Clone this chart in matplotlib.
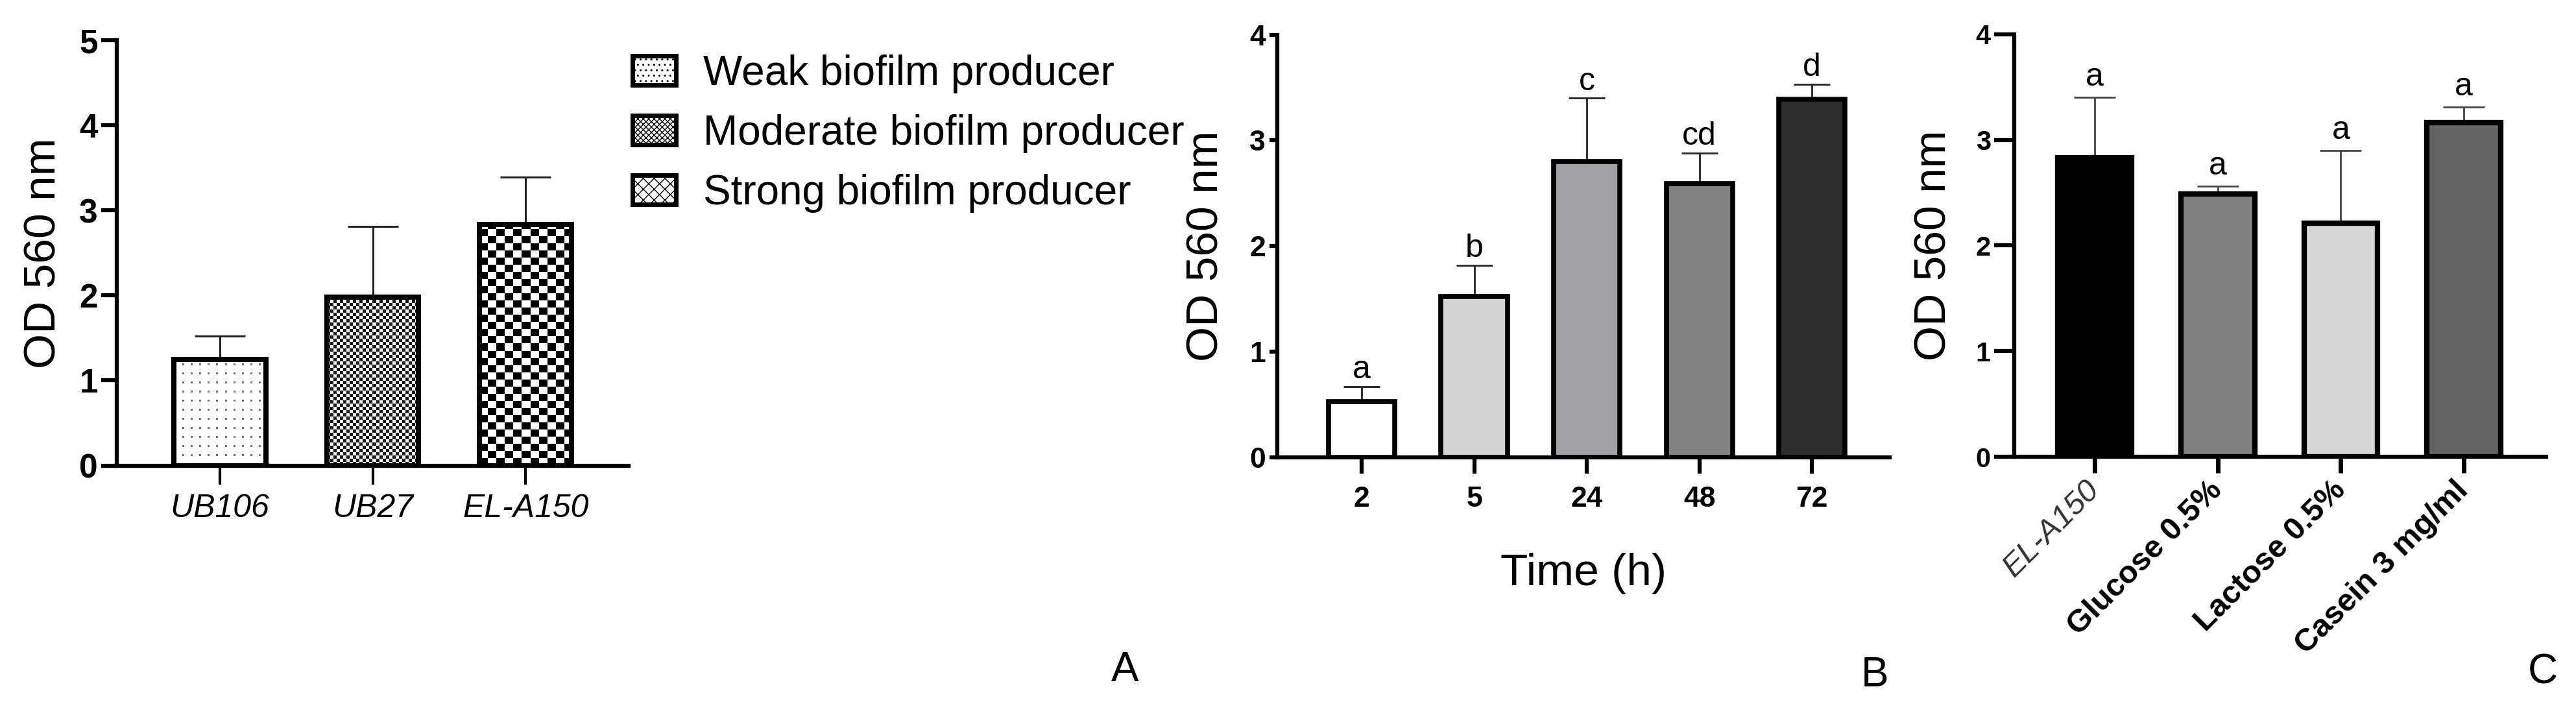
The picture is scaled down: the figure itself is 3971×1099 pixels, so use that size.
import numpy as np
import matplotlib
matplotlib.use('Agg')
import matplotlib.pyplot as plt
from matplotlib.patches import Patch

plt.rcParams['font.family'] = ['Liberation Sans', 'DejaVu Sans']

# panel A - strains
strains = ['UB106', 'UB27', 'EL-A150']
strain_od = [1.25, 1.98, 2.83]
strain_sd = [0.27, 0.83, 0.56]
strain_groups = ['Weak biofilm producer', 'Moderate biofilm producer', 'Strong biofilm producer']

# panel B - time course
times = ['2', '5', '24', '48', '72']
time_od = [0.53, 1.52, 2.80, 2.59, 3.39]
time_sd = [0.14, 0.30, 0.60, 0.29, 0.14]
time_letters = ['a', 'b', 'c', 'cd', 'd']
time_colors = ['#ffffff', '#d4d4d4', '#a2a2a6', '#828282', '#2e2e2e']

# panel C - media supplements
media = ['EL-A150', 'Glucose 0.5%', 'Lactose 0.5%', 'Casein 3 mg/ml']
media_od = [2.83, 2.49, 2.21, 3.16]
media_sd = [0.57, 0.07, 0.69, 0.15]
media_letters = ['a', 'a', 'a', 'a']
media_colors = ['#000000', '#808080', '#d6d6d6', '#626262']

W, H = 3971, 1099
fig = plt.figure(figsize=(W / 100, H / 100), dpi=100)


def box(x0, x1, ytop, ybot):
    # pixel box -> figure fraction
    return [x0 / W, 1 - ybot / H, (x1 - x0) / W, (ybot - ytop) / H]


def texture(kind, w, h):
    yy, xx = np.mgrid[0:h, 0:w]
    if kind == 'dots':
        return np.where(((xx % 13) < 3) & ((yy % 14) < 3), 0.45, 1.0)
    if kind == 'fine':
        return np.where(((xx // 5) + (yy // 5)) % 2 == 0, 0.1, 1.0)
    return np.where(((xx // 13) + (yy // 11)) % 2 == 0, 0.0, 1.0)


def fill_bar(ax, bar, kind):
    x0, y0 = bar.get_x(), bar.get_y()
    x1, y1 = x0 + bar.get_width(), y0 + bar.get_height()
    p0 = ax.transData.transform((x0, y0))
    p1 = ax.transData.transform((x1, y1))
    img = texture(kind, max(int(round(p1[0] - p0[0])), 1), max(int(round(p1[1] - p0[1])), 1))
    im = ax.imshow(img, cmap='gray', vmin=0, vmax=1, extent=(x0, x1, y0, y1), origin='lower',
                   interpolation='nearest', aspect='auto', zorder=2)
    im.set_clip_path(bar)


def style(ax, ylen, xlen, xw):
    ax.spines[['top', 'right']].set_visible(False)
    for s in ['left', 'bottom']:
        ax.spines[s].set_linewidth(4.5)
    ax.tick_params(axis='y', length=ylen, width=4.5, pad=4)
    ax.tick_params(axis='x', length=xlen, width=xw)
    for t in ax.get_yticklabels():
        t.set_fontweight('bold')


# ---------------- A
axA = fig.add_axes(box(180, 969, 62, 717.5))
xa = np.arange(len(strains))
axA.set_xlim(-0.674, 2.674)
axA.set_ylim(0, 5)
barsA = axA.bar(xa, strain_od, 0.6, facecolor='none', edgecolor='black', lw=5.8, zorder=3)
for b, k in zip(barsA, ['dots', 'fine', 'coarse']):
    fill_bar(axA, b, k)
axA.errorbar(xa, strain_od, yerr=[np.zeros(len(xa)), strain_sd], fmt='none', ecolor='#222222',
             elinewidth=2.2, capsize=28, capthick=2.2, zorder=1)
axA.set_xlim(-0.674, 2.674)
axA.set_ylim(0, 5)
axA.set_yticks(range(6))
axA.tick_params(labelsize=37)
axA.set_xticks(xa)
axA.set_xticklabels(strains, fontstyle='italic', fontsize=36)
style(axA, 17, 21, 3)
axA.tick_params(axis='x', pad=10)
axA.set_ylabel('OD 560 nm', fontsize=50)
axA.yaxis.set_label_coords(-0.143, 0.5)
axA.yaxis.label.set_va('center')

hA = [Patch(facecolor='white', edgecolor='black', lw=5, hatch='..'),
      Patch(facecolor='white', edgecolor='black', lw=5, hatch='xxxx'),
      Patch(facecolor='white', edgecolor='black', lw=5, hatch='xx')]
fig.legend(hA, strain_groups, loc='upper left', bbox_to_anchor=(975 / W, 1 - 84 / H),
           frameon=False, fontsize=46, handlelength=1.05, handleheight=0.72, handletextpad=0.65,
           labelspacing=0.5, borderpad=0, borderaxespad=0)

# ---------------- B
axB = fig.add_axes(box(1969, 2913, 53.6, 705))
xb = np.arange(len(times))
axB.bar(xb, time_od, 0.59, color=time_colors, edgecolor='black', lw=5.5, zorder=3)
axB.errorbar(xb, time_od, yerr=[np.zeros(len(xb)), time_sd], fmt='none', ecolor='#222222',
             elinewidth=2, capsize=20, capthick=2, zorder=1)
for x, m, s, lab in zip(xb, time_od, time_sd, time_letters):
    axB.annotate(lab, (x, m + s), xytext=(0, 2), textcoords='offset points', ha='center',
                 va='bottom', fontsize=36)
axB.set_xlim(-0.75, 4.69)
axB.set_ylim(0, 4)
axB.set_yticks(range(5))
axB.set_xticks(xb)
axB.set_xticklabels(times, fontweight='bold')
axB.tick_params(labelsize=32)
style(axB, 9, 18, 4.5)
axB.tick_params(axis='x', pad=14)
axB.set_xlabel('Time (h)', fontsize=50, labelpad=44)
axB.set_ylabel('OD 560 nm', fontsize=50)
axB.yaxis.set_label_coords(-0.1165, 0.5)
axB.yaxis.label.set_va('center')

# ---------------- C
axC = fig.add_axes(box(3105, 3925, 52.6, 704.4))
xc = np.arange(len(media))
axC.bar(xc, media_od, 0.6, color=media_colors, edgecolor='black', lw=6, zorder=3)
axC.errorbar(xc, media_od, yerr=[np.zeros(len(xc)), media_sd], fmt='none', ecolor='#444444',
             elinewidth=2, capsize=23, capthick=2, zorder=1)
for x, m, s, lab in zip(xc, media_od, media_sd, media_letters):
    axC.annotate(lab, (x, m + s), xytext=(0, 6), textcoords='offset points', ha='center',
                 va='bottom', fontsize=36)
axC.set_xlim(-0.653, 3.668)
axC.set_ylim(0, 4)
axC.set_yticks(range(5))
axC.set_xticks(xc)
axC.set_xticklabels(media, rotation=45, ha='right', va='center', rotation_mode='anchor')
axC.tick_params(labelsize=30)
style(axC, 22, 18, 5)
axC.tick_params(axis='x', pad=14, labelsize=35)
xt = axC.get_xticklabels()
xt[0].set_fontstyle('italic')
xt[0].set_color('#333333')
for t in xt[1:]:
    t.set_fontweight('bold')
axC.set_ylabel('OD 560 nm', fontsize=50)
axC.yaxis.set_label_coords(-0.151, 0.5)
axC.yaxis.label.set_va('center')

for lab, px, py in [('A', 1734, 1033), ('B', 2890, 1041), ('C', 3920, 1037)]:
    fig.text(px / W, 1 - py / H, lab, ha='center', va='center', fontsize=46)

fig.savefig('out.png', dpi=100)
